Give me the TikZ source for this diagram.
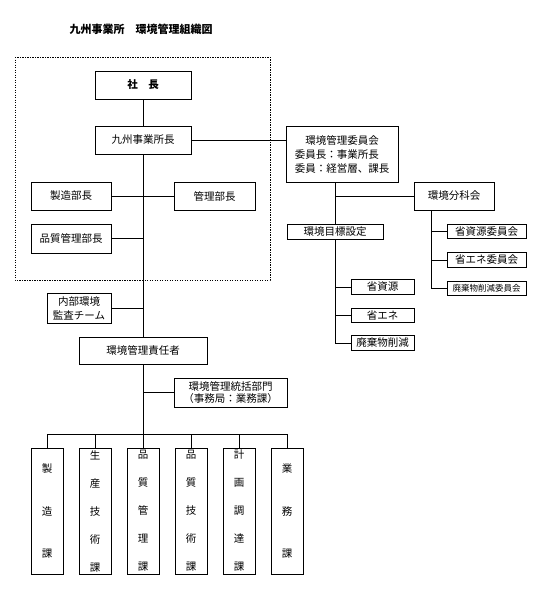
\documentclass[tikz,border=0pt]{standalone}
\usepackage{fontspec}
\setmainfont{Noto Sans CJK JP}
\usetikzlibrary{positioning}

\begin{document}
\begin{tikzpicture}
[x=1pt,y=-1pt,node distance=14pt,
font=\fontsize{10.5}{14}\selectfont,
box/.style={draw, line width=0.8pt, inner sep=0pt, outer sep=0pt, minimum width=80pt, minimum height=28pt, align=center},
slim/.style={box, minimum height=14.5pt},
sect/.style={box, minimum width=32pt, minimum height=126pt, font=\fontsize{10.5}{28}\selectfont},
sectthree/.style={sect, font=\fontsize{10.5}{42.5}\selectfont},
link/.style={line width=0.8pt}]
\useasboundingbox (0,0) rectangle (543,589);

\node[font=\bfseries\fontsize{11}{13}\selectfont] (title) at (141,29) {九州事業所　環境管理組織図};
\draw[line width=0.8pt, dash pattern=on 1.2pt off 1.3pt] (15,57) rectangle (270,280);

% head office
\node[box, minimum width=96pt, font=\bfseries\fontsize{10.5}{14}\selectfont] (shacho) at (143,85) {社　長};
\node[box, minimum width=96pt] (shocho) at (143,140) {九州事業所長};
\node[box] (seizo) at (71,196) {製造部長};
\node[box, minimum width=81pt] (kanri) at (214.5,196) {管理部長};
\node[box, minimum height=29pt] (hinkan) at (71,238.5) {品質管理部長};

% committee side
\node[box, minimum width=112pt, minimum height=56pt] (iinkai) at (342,154) {環境管理委員会\\委員長：事業所長\hphantom{長}\\委員：経営層、課長};
\node[box] (bunka) at (454,196) {環境分科会};
\node[slim, minimum width=96pt] (mokuhyo) at (335,232) {環境目標設定};
\node[slim, minimum width=63pt] (shigen) at (382.5,287) {省資源};
\node[slim, minimum width=63pt, below=of shigen] (ene) {省エネ};
\node[slim, minimum width=63pt, below=13pt of ene] (haiki) {廃棄物削減};
\node[slim, minimum width=79pt] (shigenI) at (486.5,231.5) {省資源委員会};
\node[slim, minimum width=79pt, below=of shigenI] (eneI) {省エネ委員会};
\node[slim, minimum width=79pt, below=of eneI, font=\fontsize{8.5}{10}\selectfont] (haikiI) {廃棄物削減委員会};
\coordinate (bk) at ([xshift=17pt]bunka.south west);

% lower part
\node[box, minimum width=64pt, minimum height=30pt] (kansa) at (79,308) {内部環境\\監査チーム};
\node[box, minimum width=128pt, minimum height=27pt] (sekinin) at (143,350.5) {環境管理責任者};
\node[box, minimum width=113pt, minimum height=29pt, font=\fontsize{10.5}{12.5}\selectfont] (tokatsu) at (230.5,392.5) {環境管理統括部門\\（事務局：業務課）};
\coordinate (bus) at (143,434);

\node[sectthree] (ka1) at (47,511) {製\\造\\課};
\node[sect, right=16pt of ka1] (ka2) {生\\産\\技\\術\\課};
\node[sect, right=16pt of ka2] (ka3) {品\\質\\管\\理\\課};
\node[sect, right=16pt of ka3] (ka4) {品\\質\\技\\術\\課};
\node[sect, right=16pt of ka4] (ka5) {計\\画\\調\\達\\課};
\node[sectthree, right=16pt of ka5] (ka6) {業\\務\\課};

% connectors
\draw[link] (shacho) -- (shocho);
\draw[link] (shocho.east) -- (shocho.east -| iinkai.west);
\draw[link] (seizo.east) -- (kanri.west);
\draw[link] (hinkan.east) -- (hinkan.east -| shocho.south);
\draw[link] (shocho.south) -- (sekinin.north);
\draw[link] (kansa.east) -- (kansa.east -| sekinin.north);
\draw[link] (sekinin.south) -- (bus);
\draw[link] (tokatsu.west -| sekinin.south) -- (tokatsu.west);
\draw[link] (ka1.north |- bus) -- (ka6.north |- bus);
\foreach \k in {ka1,ka2,ka3,ka4,ka5,ka6}
  \draw[link] (\k.north |- bus) -- (\k.north);

\draw[link] (mokuhyo.north |- iinkai.south) -- (mokuhyo.north);
\draw[link] (mokuhyo.north |- bunka.west) -- (bunka.west);
\draw[link] (mokuhyo.south) -- (mokuhyo.south |- haiki.west);
\foreach \g in {shigen,ene,haiki}
  \draw[link] (\g.west -| mokuhyo.south) -- (\g.west);
\draw[link] (bk) -- (bk |- haikiI.west);
\foreach \g in {shigenI,eneI,haikiI}
  \draw[link] (bk |- \g.west) -- (\g.west);
\end{tikzpicture}
\end{document}
